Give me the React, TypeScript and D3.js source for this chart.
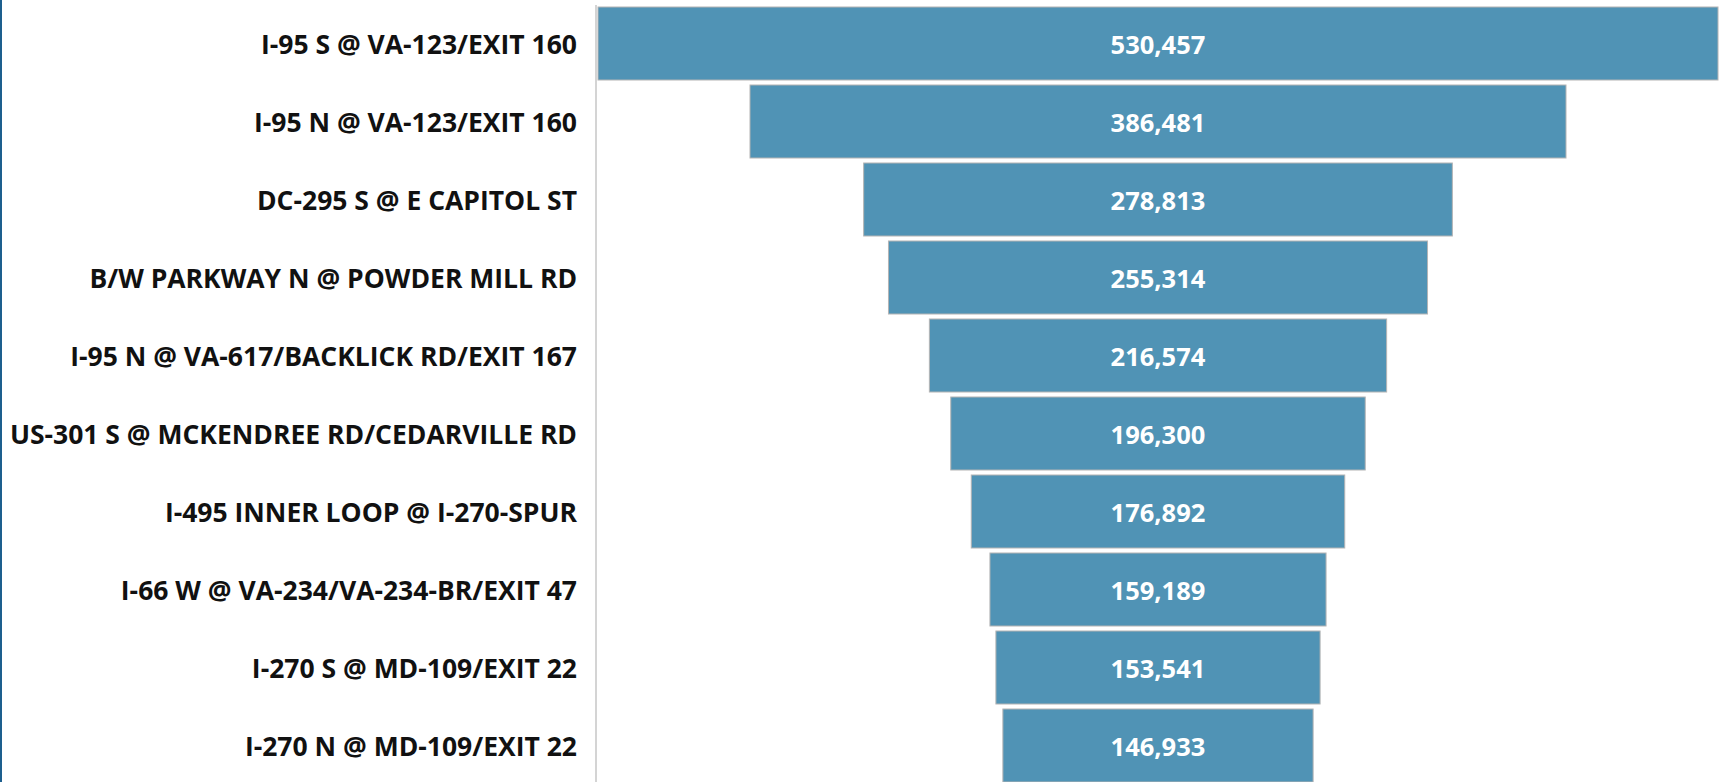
import React from "react";
import * as d3 from "d3";

const categories = [
  "I-95 S @ VA-123/EXIT 160",
  "I-95 N @ VA-123/EXIT 160",
  "DC-295 S @ E CAPITOL ST",
  "B/W PARKWAY N @ POWDER MILL RD",
  "I-95 N @ VA-617/BACKLICK RD/EXIT 167",
  "US-301 S @ MCKENDREE RD/CEDARVILLE RD",
  "I-495 INNER LOOP @ I-270-SPUR",
  "I-66 W @ VA-234/VA-234-BR/EXIT 47",
  "I-270 S @ MD-109/EXIT 22",
  "I-270 N @ MD-109/EXIT 22",
];
const values = [530457, 386481, 278813, 255314, 216574, 196300, 176892, 159189, 153541, 146933];

const W = 1721;
const H = 782;
const FONT = "'Open Sans', 'Noto Sans', sans-serif";

export default function App() {
  const axisX = 596;
  const left = 598;
  const right = 1718;
  const center = (left + right) / 2;
  const x = d3.scaleLinear().domain([0, d3.max(values) as number]).range([0, right - left]);
  const y = d3
    .scaleBand<string>()
    .domain(categories)
    .range([4.5, 4.5 + categories.length * 78])
    .paddingInner(5 / 78)
    .paddingOuter(2.5 / 78);
  const fmt = d3.format(",");
  return (
    <svg
      width={W}
      height={H}
      style={{ position: "absolute", left: 0, top: 0, background: "#fff" }}
    >
      <rect x={0} y={0} width={2} height={H} fill="#1d5f8e" />
      <line x1={axisX} x2={axisX} y1={5} y2={H} stroke="#d4d4d4" strokeWidth={2} />
      {categories.map((c, i) => {
        const w = x(values[i]);
        const yy = y(c) as number;
        const bh = y.bandwidth();
        return (
          <g key={c}>
            <rect
              x={center - w / 2}
              y={yy}
              width={w}
              height={bh}
              fill="#5093b5"
              stroke="#b4b4b4"
              strokeWidth={1}
            />
            <text
              x={center}
              y={yy + bh / 2}
              dy="0.4em"
              textAnchor="middle"
              fill="#ffffff"
              fontFamily={FONT}
              fontWeight={700}
              fontSize={25.5}
            >
              {fmt(values[i])}
            </text>
            <text
              x={577}
              y={yy + bh / 2}
              dy="0.4em"
              textAnchor="end"
              fill="#111"
              fontFamily={FONT}
              fontWeight={700}
              fontSize={26.5}
            >
              {c}
            </text>
          </g>
        );
      })}
    </svg>
  );
}
